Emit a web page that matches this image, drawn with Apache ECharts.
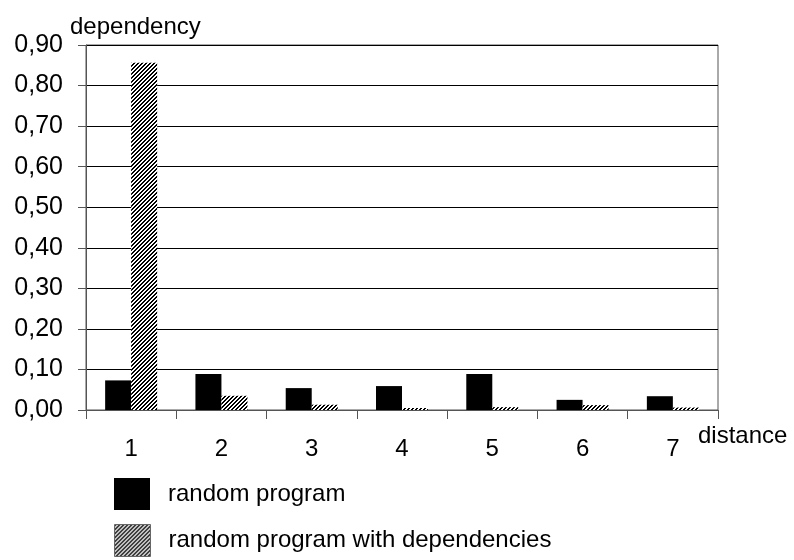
<!DOCTYPE html>
<html><head><meta charset="utf-8">
<script src="https://cdn.jsdelivr.net/npm/echarts@6/dist/echarts.min.js"></script>
<style>html,body{margin:0;padding:0;background:#fff}#c{width:794px;height:560px}</style>
</head><body><div id="c"></div>
<script>
const categories = ['1','2','3','4','5','6','7'];
const randomProgram = [0.073, 0.089, 0.054, 0.059, 0.089, 0.025, 0.034];
const randomWithDeps = [0.856, 0.035, 0.013, 0.005, 0.007, 0.012, 0.006];
const seriesNames = ['random program', 'random program with dependencies'];

function hatch(){
  const c = document.createElement('canvas');
  c.width = 4; c.height = 4;
  const ctx = c.getContext('2d');
  const img = ctx.createImageData(4,4);
  for (let y=0;y<4;y++) for (let x=0;x<4;x++){
    const i=(y*4+x)*4;
    const on = ((x+y)%4) < 2;
    const v = on ? 0 : 255;
    img.data[i]=v; img.data[i+1]=v; img.data[i+2]=v; img.data[i+3]=255;
  }
  ctx.putImageData(img,0,0);
  return c;
}
const pat = {image: hatch(), repeat: 'repeat'};
const font = 'Liberation Sans, Arial, sans-serif';
const axisCol = '#555';
const legendText = {fontFamily: font, fontSize: 24, color: '#000', padding: [0,0,0,13]};

const chart = echarts.init(document.getElementById('c'));
chart.setOption({
  animation: false,
  backgroundColor: '#fff',
  grid: {left: 86, right: 76, top: 45, bottom: 150, show: true, borderColor: axisCol, borderWidth: 1},
  legend: [
    {left: 114, top: 478, padding: 0, itemWidth: 36, itemHeight: 32, textStyle: legendText,
      data: [{name: seriesNames[0], icon: 'rect'}]},
    {left: 114, top: 524, padding: 0, itemWidth: 36, itemHeight: 32, textStyle: legendText,
      data: [{name: seriesNames[1], icon: 'rect', itemStyle: {borderColor: '#666', borderWidth: 1}}]}
  ],
  xAxis: {
    type: 'category', data: categories, boundaryGap: true,
    name: 'distance', nameLocation: 'end', nameGap: -20,
    nameTextStyle: {fontFamily: font, fontSize: 24, color: '#000', align: 'left', verticalAlign: 'top', padding: [14,0,0,0]},
    axisLine: {lineStyle: {color: axisCol, width: 1}},
    axisTick: {show: true, length: 9, lineStyle: {color: axisCol}, alignWithLabel: false},
    axisLabel: {fontFamily: font, fontSize: 24, color: '#000', margin: 27}
  },
  yAxis: {
    type: 'value', min: 0, max: 0.9, interval: 0.1,
    name: 'dependency', nameLocation: 'end', nameGap: 6,
    nameTextStyle: {fontFamily: font, fontSize: 24, color: '#000', align: 'left', padding: [0,0,0,-16]},
    axisLine: {show: true, lineStyle: {color: axisCol, width: 1}},
    axisTick: {show: true, length: 8, lineStyle: {color: axisCol}},
    splitLine: {show: true, lineStyle: {color: '#000', width: 1}},
    axisLabel: {fontFamily: font, fontSize: 25, color: '#000', margin: 23,
      formatter: v => v.toFixed(2).replace('.', ',')}
  },
  series: [
    {name: seriesNames[0], type: 'bar', data: randomProgram, barWidth: 26, barGap: '0%',
      itemStyle: {color: '#000'}},
    {name: seriesNames[1], type: 'bar', data: randomWithDeps, barWidth: 26,
      itemStyle: {color: pat}}
  ]
});
</script></body></html>
